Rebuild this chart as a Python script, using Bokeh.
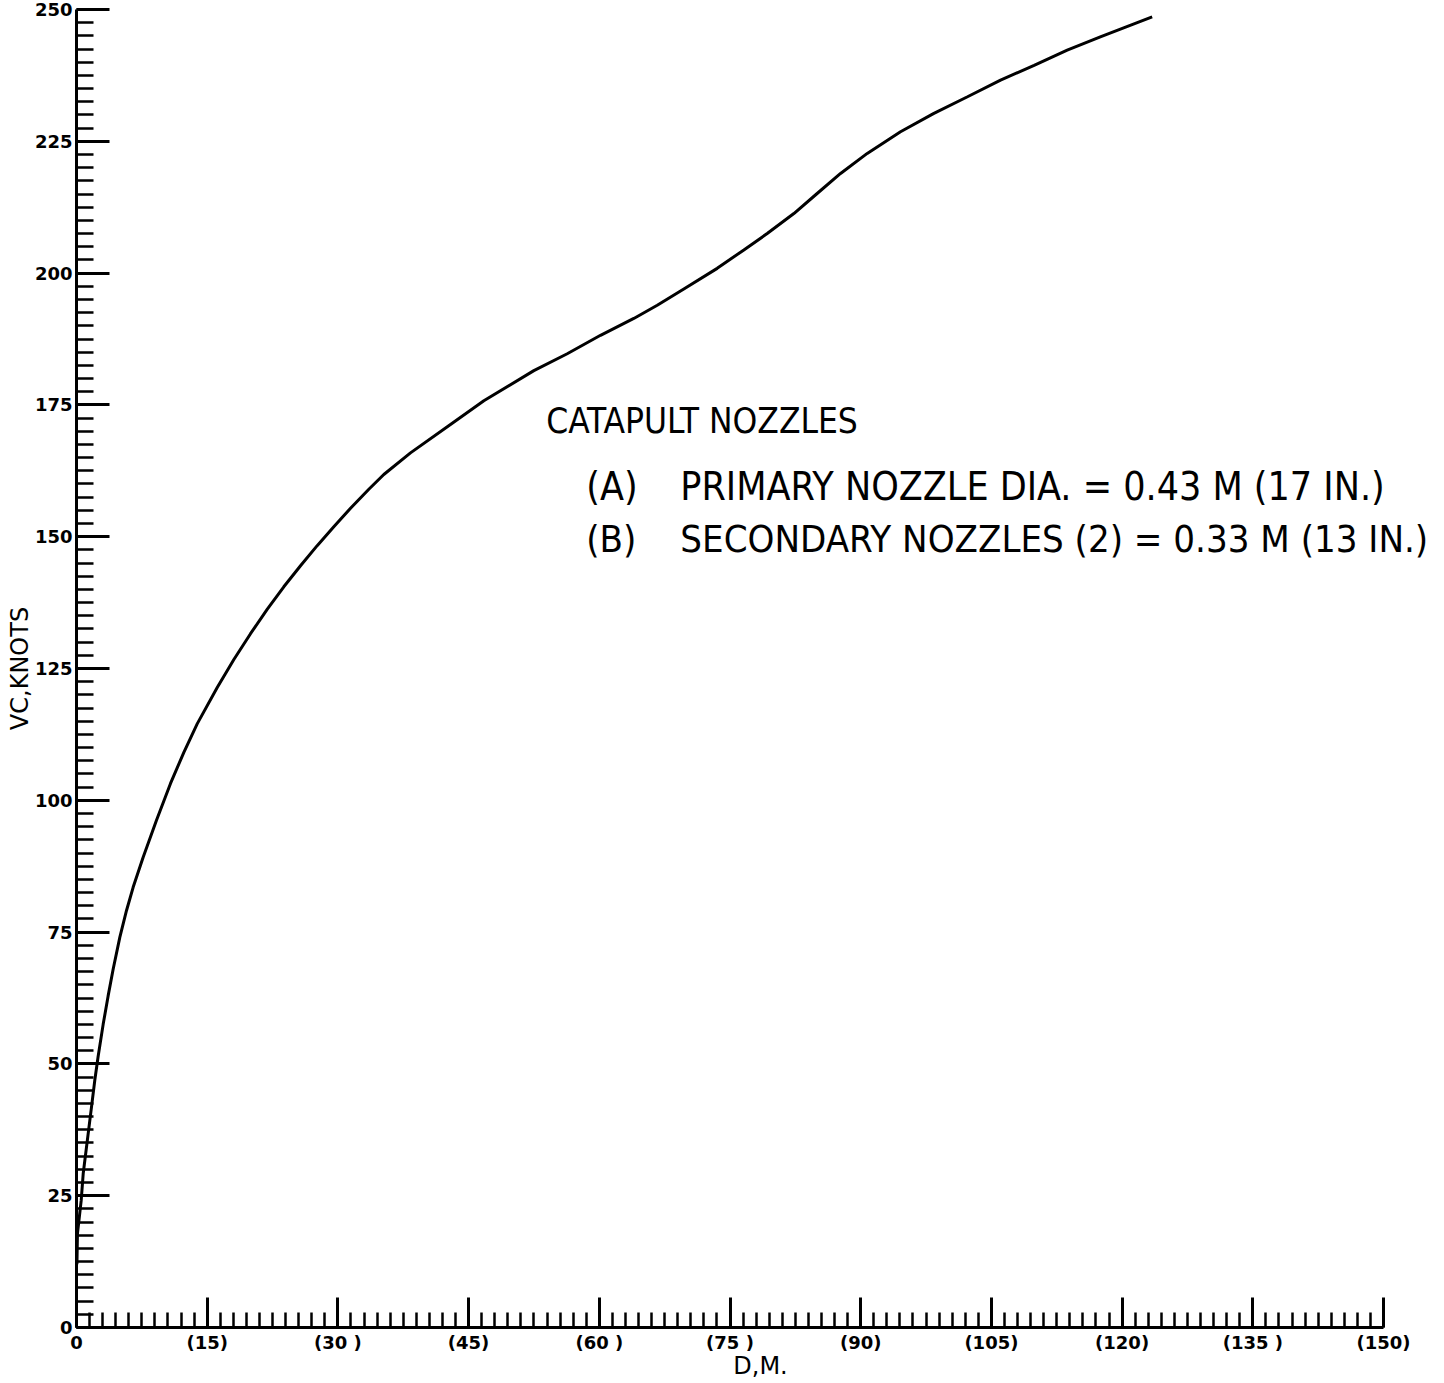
from bokeh.plotting import figure
from bokeh.models import FixedTicker, Label
from bokeh.embed import file_html
from bokeh.resources import INLINE

# ---- data ----
dist_m = [0.05, 0.11, 0.54, 0.77, 1.72, 2.1, 2.49, 3.06, 3.63, 4.21, 4.97, 5.74, 6.5,
          7.65, 9.18, 10.79, 12.32, 13.85, 16.15, 18.06, 19.97, 21.88, 23.79, 25.71,
          27.62, 29.53, 31.45, 33.55, 35.27, 38.33, 42.92, 46.75, 52.49, 56.32, 60.14,
          63.96, 66.65, 69.7, 73.53, 76.59, 79.27, 82.33, 85.0, 87.69, 90.75, 94.57,
          98.4, 102.2, 106.05, 109.9, 113.7, 117.5, 123.45]
vc_knots = [12.0, 17.8, 24.1, 29.2, 41.8, 46.9, 51.5, 57.5, 62.9, 68.0, 74.0, 79.1, 83.5,
            89.2, 96.2, 103.2, 109.1, 114.5, 121.4, 126.7, 131.6, 136.2, 140.5, 144.5,
            148.3, 151.9, 155.4, 159.0, 161.8, 165.9, 171.3, 175.8, 181.5, 184.7, 188.2,
            191.4, 193.9, 197.0, 200.9, 204.4, 207.5, 211.3, 215.1, 218.9, 222.7, 226.8,
            230.3, 233.4, 236.6, 239.4, 242.3, 244.8, 248.6]

x_ticks = [0, 15, 30, 45, 60, 75, 90, 105, 120, 135, 150]
x_tick_labels = ["0", "(15)", "(30 )", "(45)", "(60 )", "(75 )", "(90)", "(105)",
                 "(120)", "(135 )", "(150)"]
y_ticks = [0, 25, 50, 75, 100, 125, 150, 175, 200, 225, 250]
x_minor = [i * 1.5 for i in range(101)]
y_minor = [i * 2.5 for i in range(101)]

title_text = "CATAPULT NOZZLES"
item_tags = ["(A)", "(B)"]
item_texts = ["PRIMARY NOZZLE DIA. = 0.43 M (17 IN.)",
              "SECONDARY NOZZLES (2) = 0.33 M (13 IN.)"]

# frame: x 76..1444 px, data 0..150 ends at px 1383 -> range end ~157
p = figure(width=1444, height=1383, x_range=(0, 157.0), y_range=(0, 250),
           output_backend="svg", toolbar_location=None,
           min_border_left=76, min_border_right=0, min_border_top=9, min_border_bottom=56)
p.outline_line_color = None
p.xgrid.visible = False
p.ygrid.visible = False

p.line(dist_m, vc_knots, line_color="black", line_width=3)

for ax in (p.xaxis[0], p.yaxis[0]):
    ax.axis_line_width = 3
    ax.axis_line_color = "black"
    ax.major_tick_line_width = 3
    ax.minor_tick_line_width = 2.5
    ax.major_tick_out = 0
    ax.minor_tick_out = 0
    ax.major_label_text_font = "DejaVu Sans"
    ax.major_label_text_font_style = "bold"
    ax.major_label_text_color = "black"
    ax.axis_label_text_font = "DejaVu Sans"
    ax.axis_label_text_font_style = "normal"
    ax.axis_label_text_color = "black"

p.xaxis.bounds = (0, 150)
p.xaxis.ticker = FixedTicker(ticks=x_ticks, minor_ticks=x_minor)
p.yaxis.ticker = FixedTicker(ticks=y_ticks, minor_ticks=y_minor)
p.xaxis.major_label_overrides = {t: l for t, l in zip(x_ticks, x_tick_labels)}
p.xaxis.major_tick_in = 30
p.xaxis.minor_tick_in = 15
p.yaxis.major_tick_in = 33
p.yaxis.minor_tick_in = 17
p.xaxis.major_label_text_font_size = "18px"
p.yaxis.major_label_text_font_size = "18px"
p.xaxis.major_label_standoff = 4
p.yaxis.major_label_standoff = 4
p.xaxis.axis_label = "D,M."
p.yaxis.axis_label = "VC,KNOTS"
p.xaxis.axis_label_text_font_size = "24px"
p.yaxis.axis_label_text_font_size = "24px"
p.xaxis.axis_label_standoff = -4
p.yaxis.axis_label_standoff = -2

font = "DejaVu Sans Condensed"
p.add_layout(Label(x=53.9, y=171.9, text=title_text, text_font=font,
                   text_font_size="35px", text_color="black", text_baseline="alphabetic"))
for tag, txt, yy, fs in zip(item_tags, item_texts, [159.5, 149.5], ["39px", "38px"]):
    p.add_layout(Label(x=58.5, y=yy, text=tag, text_font=font, text_font_size=fs,
                       text_color="black", text_baseline="alphabetic"))
    p.add_layout(Label(x=69.3, y=yy, text=txt, text_font=font, text_font_size=fs,
                       text_color="black", text_baseline="alphabetic"))

open("out.html", "w").write(file_html(p, INLINE))
